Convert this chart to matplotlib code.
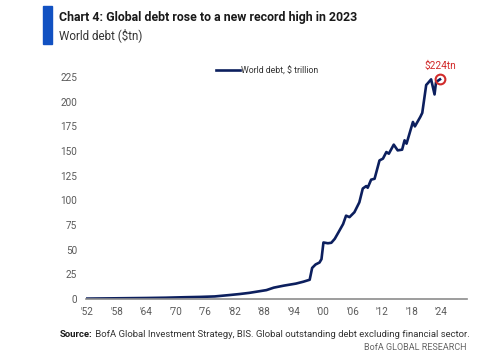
import matplotlib
matplotlib.use("Agg")
import matplotlib.pyplot as plt
from matplotlib.patches import Rectangle

plt.rcParams['font.family'] = ['Roboto', 'DejaVu Sans']

# world debt, $ trillion (decimal year, value)
years = [1952.0, 1956.0, 1960.0, 1964.0, 1968.0, 1972.0, 1975.0, 1978.0, 1981.0,
         1983.0, 1985.0, 1987.0, 1988.5, 1990.0, 1992.0, 1994.5, 1996.0, 1997.3,
         1997.8, 1998.5, 1999.3, 1999.7, 2000.1, 2001.0, 2001.7, 2002.4, 2003.2,
         2004.1, 2004.7, 2005.4, 2006.4, 2007.4, 2008.1, 2008.8, 2009.1, 2009.8,
         2010.5, 2011.5, 2012.2, 2012.9, 2013.4, 2014.4, 2015.2, 2016.1, 2016.6,
         2017.0, 2018.3, 2018.7, 2019.8, 2020.2, 2021.0, 2021.3, 2022.0, 2022.7,
         2023.0, 2023.8]
debt = [0.4, 0.6, 0.8, 1.0, 1.3, 1.8, 2.1, 2.6, 4.0,
        5.0, 6.2, 7.8, 9.0, 11.5, 13.5, 15.6, 17.5, 19.5,
        31.5, 35.0, 37.0, 40.4, 57.3, 56.5, 57.0, 61.0, 68.0,
        76.0, 84.5, 83.0, 88.0, 98.0, 112.0, 114.5, 112.8, 121.0,
        121.9, 140.5, 142.3, 149.0, 147.3, 156.5, 150.7, 151.4, 160.9,
        157.5, 179.5, 175.0, 184.6, 188.7, 217.0, 218.6, 222.7, 207.4,
        220.0, 222.7]

tick_years = list(range(1952, 2025, 6))
tick_labels = ["'" + str(y)[2:] for y in tick_years]
y_ticks = list(range(0, 226, 25))

navy = '#0c1f5e'
red = '#d12b2b'
grey = '#5a5a5a'

fig = plt.figure(figsize=(5, 3.57), dpi=100)
ax = fig.add_axes([0.172, 0.1625, 0.762, 0.663])

ax.plot(years, debt, color=navy, lw=1.9, label='World debt, $ trillion', solid_joinstyle='round')
ax.plot([years[-1]], [debt[-1]], 'o', ms=7, mfc='none', mec=red, mew=1.5)
ax.text(years[-1], debt[-1] + 9, '$224tn', color=red, fontsize=7.3, ha='center', va='bottom')

ax.set_xlim(1951.8, 2029.3)
ax.set_ylim(0, 240)
ax.set_xticks(tick_years)
ax.set_xticklabels(tick_labels)
ax.set_yticks(y_ticks)
ax.tick_params(length=0, labelsize=7.2, colors=grey)
ax.tick_params(axis='y', pad=6.5)
ax.tick_params(axis='x', pad=6)
for s in ['top', 'right', 'left']:
    ax.spines[s].set_visible(False)
ax.spines['bottom'].set_color('#8c8c8c')
ax.spines['bottom'].set_linewidth(1.2)

leg = ax.legend(loc='center left', bbox_to_anchor=(0.341, 0.964), frameon=False,
                fontsize=6.3, handlelength=2.7, handletextpad=0.2, borderpad=0, borderaxespad=0)
for t in leg.get_texts():
    t.set_color('#333333')

# header
fig.patches.append(Rectangle((43 / 500, 1 - 44 / 357), 9 / 500, 38 / 357,
                             transform=fig.transFigure, color='#1151c2'))
fig.text(59 / 500, 1 - 18 / 357, 'Chart 4: Global debt rose to a new record high in 2023',
         fontsize=8.9, fontweight='bold', color='#1a1a1a', va='center')
fig.text(59 / 500, 1 - 35.5 / 357, 'World debt ($tn)', fontsize=8.4, color='#333333', va='center')

# footer
src = fig.text(60 / 500, 1 - 337 / 357, 'Source:', fontsize=6.8, fontweight='bold', color='#1a1a1a')
ax.annotate(' BofA Global Investment Strategy, BIS. Global outstanding debt excluding financial sector.',
            xy=(1, 0), xycoords=src, fontsize=6.8, color='#333333', va='bottom', ha='left')
fig.text(466 / 500, 1 - 348 / 357, 'BofA GLOBAL RESEARCH', fontsize=6.5, color='#666666',
         ha='right', va='center')

fig.savefig('out.png', dpi=100)
